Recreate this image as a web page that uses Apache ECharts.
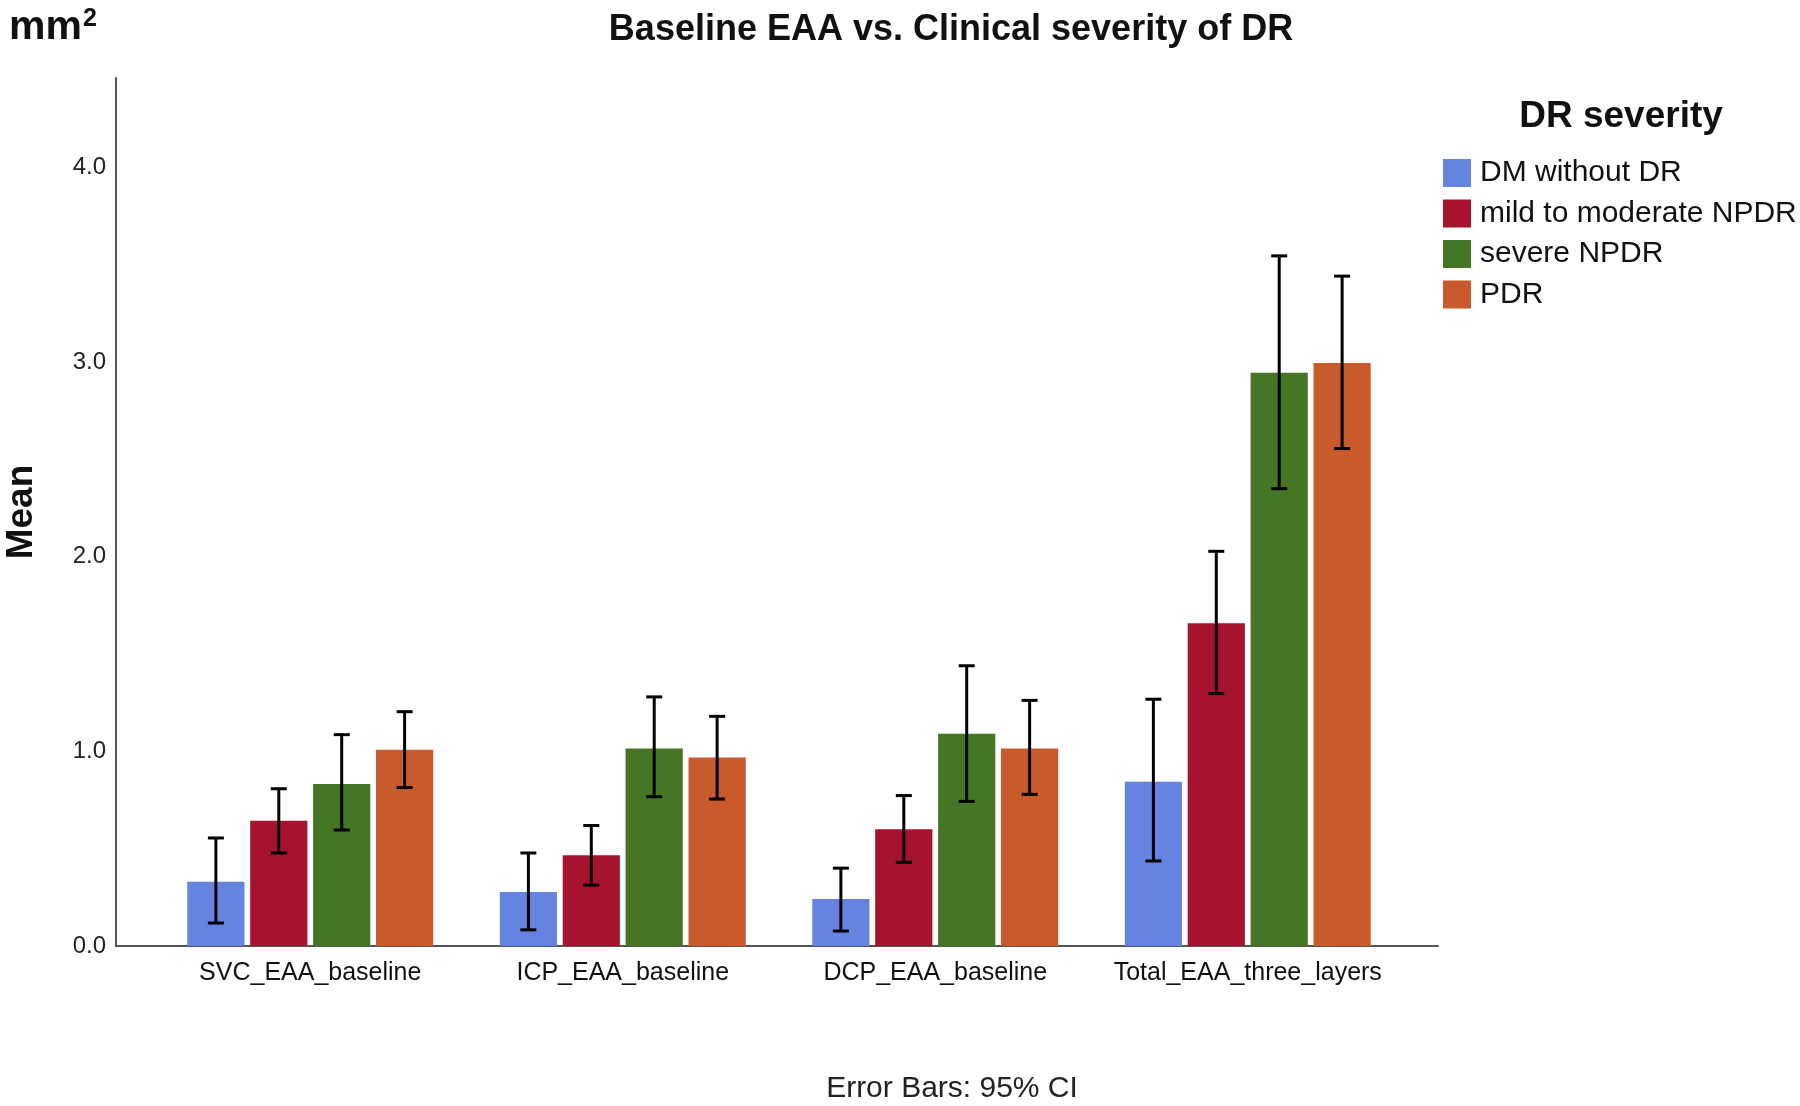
<!DOCTYPE html>
<html>
<head>
<meta charset="utf-8">
<script src="https://cdn.jsdelivr.net/npm/echarts@6/dist/echarts.min.js"></script>
<style>html,body{margin:0;padding:0;background:#fff}#c{width:1800px;height:1106px}</style>
</head>
<body>
<div id="c"></div>
<script>
const categories = ['SVC_EAA_baseline', 'ICP_EAA_baseline', 'DCP_EAA_baseline', 'Total_EAA_three_layers'];
const seriesNames = ['DM without DR', 'mild to moderate NPDR', 'severe NPDR', 'PDR'];
const colors = ['#6584E0', '#A6132F', '#447625', '#C95A2B'];
const meanDM     = [0.33, 0.277, 0.242, 0.844];
const meanMild   = [0.643, 0.466, 0.60, 1.658];
const meanSevere = [0.832, 1.015, 1.09, 2.946];
const meanPDR    = [1.009, 0.968, 1.015, 2.995];
const lowDM      = [0.118, 0.083, 0.077, 0.437];
const highDM     = [0.555, 0.478, 0.40, 1.268];
const lowMild    = [0.478, 0.313, 0.43, 1.297];
const highMild   = [0.808, 0.619, 0.773, 2.028];
const lowSevere  = [0.596, 0.767, 0.743, 2.35];
const highSevere = [1.086, 1.28, 1.44, 3.546];
const lowPDR     = [0.814, 0.755, 0.779, 2.556];
const highPDR    = [1.204, 1.18, 1.262, 3.442];
const yTicks = [0, 1, 2, 3, 4];

const means = [meanDM, meanMild, meanSevere, meanPDR];
const lows = [lowDM, lowMild, lowSevere, lowPDR];
const highs = [highDM, highMild, highSevere, highPDR];

const FONT = '"Liberation Sans", Arial, sans-serif';
const CAT_GAP = 0.213, BAR_GAP = 0.10;
const chart = echarts.init(document.getElementById('c'));

const series = [];
seriesNames.forEach((name, i) => {
  series.push({
    name: name, type: 'bar', xAxisIndex: 1, yAxisIndex: 1,
    data: means[i], barGap: (BAR_GAP * 100) + '%', barCategoryGap: (CAT_GAP * 100) + '%',
    itemStyle: { color: colors[i] }, emphasis: { disabled: true }
  });
});
seriesNames.forEach((name, i) => {
  series.push({
    type: 'custom', xAxisIndex: 1, yAxisIndex: 1, z: 10, silent: true,
    data: categories.map((c, k) => [k, lows[i][k], highs[i][k]]),
    renderItem: function (params, api) {
      const k = api.value(0);
      const band = api.size([1, 0])[0];
      const w = band * (1 - CAT_GAP) / (4 + 3 * BAR_GAP);
      const off = (i - 1.5) * w * (1 + BAR_GAP);
      const pLo = api.coord([k, api.value(1)]);
      const pHi = api.coord([k, api.value(2)]);
      const x = pLo[0] + off;
      const cap = 8;
      const st = { stroke: '#000', lineWidth: 3 };
      return { type: 'group', children: [
        { type: 'line', shape: { x1: x, y1: pLo[1], x2: x, y2: pHi[1] }, style: st },
        { type: 'line', shape: { x1: x - cap, y1: pLo[1], x2: x + cap, y2: pLo[1] }, style: st },
        { type: 'line', shape: { x1: x - cap, y1: pHi[1], x2: x + cap, y2: pHi[1] }, style: st }
      ]};
    }
  });
});

chart.setOption({
  animation: false,
  backgroundColor: '#fff',
  textStyle: { fontFamily: FONT },
  title: [
    { text: 'Baseline EAA vs. Clinical severity of DR', left: 946, top: 7, textAlign: 'center',
      textStyle: { fontFamily: FONT, fontSize: 36, fontWeight: 'bold', color: '#111' } },
    { text: '{a|mm}{b|2}', left: 4, top: 2,
      textStyle: { rich: {
        a: { fontFamily: FONT, fontSize: 41, fontWeight: 'bold', color: '#111' },
        b: { fontFamily: FONT, fontSize: 25, fontWeight: 'bold', color: '#111', verticalAlign: 'top', padding: [0, 0, 0, 1] }
      } } },
    { text: 'DR severity', left: 1616, top: 93, textAlign: 'center',
      textStyle: { fontFamily: FONT, fontSize: 37, fontWeight: 'bold', color: '#111' } },
    { text: 'Error Bars: 95% CI', left: 947, top: 1069, textAlign: 'center',
      textStyle: { fontFamily: FONT, fontSize: 30, fontWeight: 'normal', color: '#222' } }
  ],
  legend: {
    orient: 'vertical', left: 1438, top: 153, itemWidth: 28, itemHeight: 28, itemGap: 10.5,
    data: seriesNames, icon: 'rect', selectedMode: false,
    textStyle: { fontFamily: FONT, fontSize: 30, color: '#111', padding: [0, 0, 0, 4] }
  },
  grid: [
    { left: 116, right: 362, top: 78, bottom: 160, containLabel: false, outerBoundsMode: 'none' },
    { left: 154, right: 396, top: 78, bottom: 160, containLabel: false, outerBoundsMode: 'none' }
  ],
  xAxis: [
    { gridIndex: 0, type: 'value', min: 0, max: 1, axisLine: { show: true, onZero: false, lineStyle: { color: '#555', width: 2 } },
      axisTick: { show: false }, axisLabel: { show: false }, splitLine: { show: false } },
    { gridIndex: 1, type: 'category', data: categories, axisLine: { show: false }, axisTick: { show: false },
      axisLabel: { interval: 0, hideOverlap: false, fontFamily: FONT, fontSize: 25, color: '#111', margin: 15 } }
  ],
  yAxis: [
    { gridIndex: 0, type: 'value', min: yTicks[0], max: 4.46, interval: 1,
      axisLine: { show: true, lineStyle: { color: '#555', width: 2 } }, axisTick: { show: false }, splitLine: { show: false },
      axisLabel: { showMaxLabel: false, fontFamily: FONT, fontSize: 24, color: '#222', margin: 10,
        formatter: v => yTicks.includes(v) ? v.toFixed(1) : '' },
      name: 'Mean', nameLocation: 'middle', nameRotate: 90, nameGap: 76,
      nameTextStyle: { fontFamily: FONT, fontSize: 37, fontWeight: 'bold', color: '#111' } },
    { gridIndex: 1, type: 'value', min: 0, max: 4.46, show: false, splitLine: { show: false } }
  ],
  series: series
});
</script>
</body>
</html>
